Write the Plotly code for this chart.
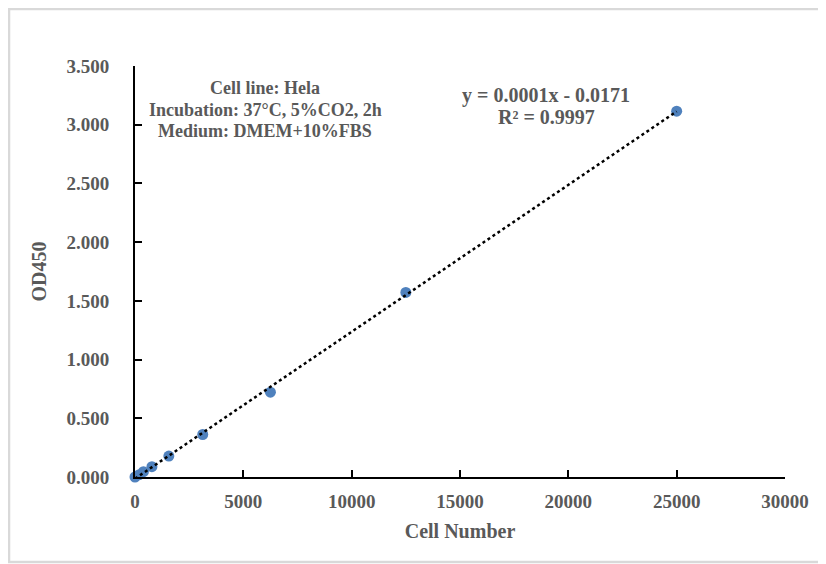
import numpy as np
import plotly.graph_objects as go

cell_number = [0, 195, 390, 781, 1562, 3125, 6250, 12500, 25000]
od450 = [0.0, 0.02, 0.045, 0.088, 0.178, 0.362, 0.722, 1.572, 3.115]

x_ticks = [0, 5000, 10000, 15000, 20000, 25000, 30000]
y_ticks = [0, 0.5, 1.0, 1.5, 2.0, 2.5, 3.0, 3.5]

info_lines = ["Cell line: Hela", "Incubation: 37°C, 5%CO2, 2h", "Medium: DMEM+10%FBS"]
fit_lines = ["y = 0.0001x - 0.0171", "R² = 0.9997"]

gray = "#595959"
font_family = "Liberation Serif"

# linear trendline through the measured points
slope, intercept = np.polyfit(cell_number, od450, 1)
trend_x = [cell_number[0], cell_number[-1]]
trend_y = [slope * v + intercept for v in trend_x]

fig = go.Figure()
fig.add_trace(go.Scatter(x=cell_number, y=od450, mode="markers",
                         marker=dict(color="#4F81BD", size=11),
                         cliponaxis=False, showlegend=False))
# trendline drawn over the markers, like the Excel chart
fig.add_trace(go.Scatter(x=trend_x, y=trend_y, mode="lines",
                         line=dict(color="black", width=2.5, dash="dot"),
                         hoverinfo="skip", showlegend=False))

tick_font = dict(family=font_family, size=19, color=gray, weight="bold")
title_font = dict(family=font_family, size=20, color=gray, weight="bold")

fig.update_xaxes(range=[0, 30000], tickvals=x_ticks, tickformat="d",
                 ticks="inside", ticklen=7, tickwidth=1.5, tickcolor="black",
                 showline=True, linecolor="black", linewidth=2,
                 showgrid=False, zeroline=False, ticklabelstandoff=6,
                 tickfont=tick_font,
                 title=dict(text="Cell Number", font=title_font, standoff=13))
fig.update_yaxes(range=[0, 3.5], tickvals=y_ticks, tickformat=".3f",
                 ticks="inside", ticklen=7, tickwidth=1.5, tickcolor="black",
                 showline=True, linecolor="black", linewidth=2,
                 showgrid=False, zeroline=False, ticklabelstandoff=20,
                 tickfont=tick_font,
                 title=dict(text="OD450", font=title_font, standoff=14))

# text blocks, one annotation per line to control spacing
for i, line in enumerate(info_lines):
    fig.add_annotation(xref="paper", yref="paper", x=0.2, y=0.946 - i * 0.0523,
                       text="<b>" + line + "</b>", showarrow=False,
                       xanchor="center", yanchor="middle",
                       font=dict(family=font_family, size=18, color=gray))
for i, line in enumerate(fit_lines):
    fig.add_annotation(xref="paper", yref="paper", x=0.633, y=0.929 - i * 0.0535,
                       text="<b>" + line + "</b>", showarrow=False,
                       xanchor="center", yanchor="middle",
                       font=dict(family=font_family, size=20, color=gray))

# light outer chart frame
fig.add_shape(type="rect", xref="paper", yref="paper",
              x0=-0.1938, x1=1.0585, y0=-0.2068, y1=1.1387,
              line=dict(color="#D9D9D9", width=2.5), layer="below")

# page puts the plot 8px in from the corner, so margins are shifted back
fig.update_layout(width=826, height=564,
                  margin=dict(l=127, r=49, t=58, b=95),
                  paper_bgcolor="white", plot_bgcolor="white",
                  font=dict(family=font_family, color=gray))

fig.write_html("out.html")
